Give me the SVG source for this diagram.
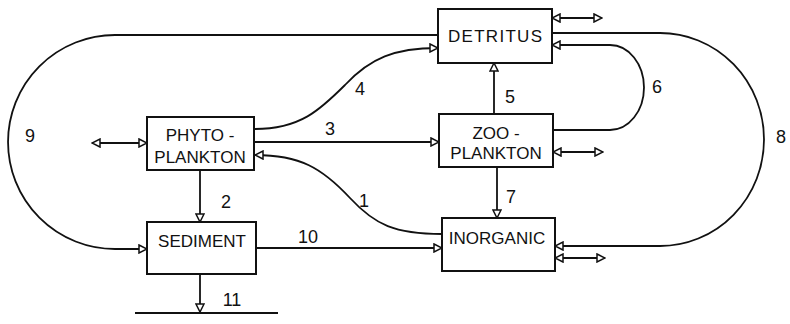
<svg xmlns="http://www.w3.org/2000/svg" width="790" height="324" viewBox="0 0 790 324">
<style>
.box{fill:#fff;stroke:#111;stroke-width:2}
.lbl{font-family:"Liberation Sans",Arial,sans-serif;font-size:17px;fill:#111;text-anchor:middle}
.num{font-family:"Liberation Sans",Arial,sans-serif;font-size:18px;fill:#111;text-anchor:middle}
.ln{fill:none;stroke:#111;stroke-width:1.8}
.arr{marker-end:url(#ah)}
.dbl{marker-end:url(#ah);marker-start:url(#ah)}
</style>
<defs>
<marker id="ah" markerUnits="userSpaceOnUse" markerWidth="10" markerHeight="10" viewBox="-1 -1 10 10" refX="8" refY="4" orient="auto-start-reverse">
<path d="M0,0 L8,4 L0,8 Z" fill="#fff" stroke="#111" stroke-width="1.5"/>
</marker>
</defs>
<rect width="790" height="324" fill="#fff"/>
<g id="connectors">
<path class="ln arr" d="M438,35 H115 A107,107 0 0 0 115,249 H147"/>
<path class="ln arr" d="M552,33 H660 A104,106.5 0 0 1 660,246 H555"/>
<path class="ln arr" d="M553,130 H610 A34,42.5 0 0 0 610,45 H552"/>
<path class="ln arr" d="M255,129 C300,129 320,110 345,85 C370,58 395,48 438,48"/>
<path class="ln arr" d="M255,142 H439"/>
<path class="ln arr" d="M442,234 C395,234 375,225 350,198 C322,168 300,155 255,155"/>
<path class="ln arr" d="M494,114 V63"/>
<path class="ln arr" d="M497,167 V218"/>
<path class="ln arr" d="M200,170 V222"/>
<path class="ln arr" d="M256,248 H442"/>
<path class="ln arr" d="M200,274 V312"/>
<path class="ln" d="M135,313 H278"/>
<path class="ln dbl" d="M92,143 H147"/>
<path class="ln dbl" d="M602,18 H552"/>
<path class="ln dbl" d="M603,152 H553"/>
<path class="ln dbl" d="M605,258 H555"/>
<text class="num" x="30" y="142">9</text>
<text class="num" x="781" y="143">8</text>
<text class="num" x="657" y="93">6</text>
<text class="num" x="360" y="95">4</text>
<text class="num" x="330" y="135">3</text>
<text class="num" x="510" y="103">5</text>
<text class="num" x="364" y="207">1</text>
<text class="num" x="308" y="243">10</text>
<text class="num" x="511" y="203">7</text>
<text class="num" x="226" y="208">2</text>
<text class="num" x="232" y="306">11</text>
</g>
<g id="detritus">
<rect class="box" x="438" y="9" width="114" height="54"/>
<text class="lbl" x="495" y="42" textLength="94" lengthAdjust="spacing">DETRITUS</text>
</g>
<g id="phytoplankton">
<rect class="box" x="147" y="117" width="107" height="53"/>
<text class="lbl" x="200" y="141">PHYTO -</text>
<text class="lbl" x="200" y="163">PLANKTON</text>
</g>
<g id="zooplankton">
<rect class="box" x="439" y="114" width="114" height="53"/>
<text class="lbl" x="496" y="139">ZOO -</text>
<text class="lbl" x="496" y="159">PLANKTON</text>
</g>
<g id="sediment">
<rect class="box" x="147" y="222" width="109" height="52"/>
<text class="lbl" x="202" y="247">SEDIMENT</text>
</g>
<g id="inorganic">
<rect class="box" x="442" y="218" width="113" height="53"/>
<text class="lbl" x="497" y="244">INORGANIC</text>
</g>
</svg>
